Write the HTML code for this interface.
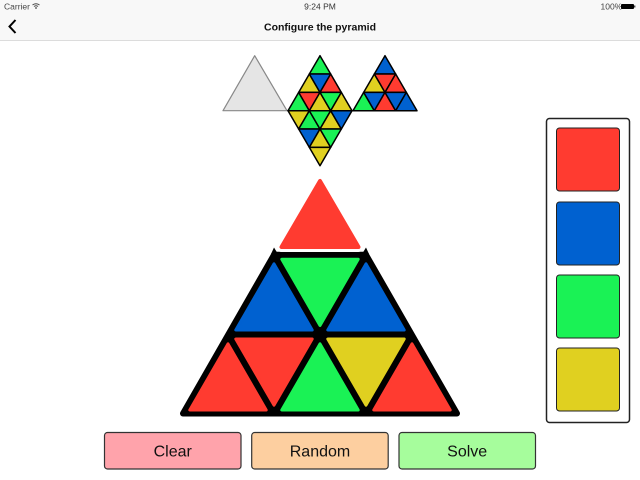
<!DOCTYPE html>
<html><head><meta charset="utf-8"><style>
html,body{margin:0;padding:0;background:#fff}
body{width:640px;height:480px;overflow:hidden;position:relative}
svg{position:absolute;left:0;top:0}
text{font-family:"Liberation Sans",sans-serif}
</style></head><body>
<svg width="640" height="480" viewBox="0 0 640 480" xmlns="http://www.w3.org/2000/svg">
<defs>
<polygon id="u" points="0,18.33 21.33,18.33 10.67,0" stroke="#000" stroke-width="1.5" stroke-linejoin="round"/>
<polygon id="d" points="0,0 21.33,0 10.67,18.33" stroke="#000" stroke-width="1.5" stroke-linejoin="round"/>
<polygon id="U" points="7.79,75.17 84.21,75.17 46,9" stroke-width="3" stroke-linejoin="round"/>
<polygon id="D" points="7.79,4.5 84.21,4.5 46,70.67" stroke-width="3" stroke-linejoin="round"/>
</defs>
<rect x="0" y="0" width="640" height="40" fill="#f8f8f8"/>
<rect x="0" y="40" width="640" height="1" fill="#dcdcdc"/>
<text x="4" y="9.5" font-size="8.5" fill="#444">Carrier</text>
<path d="M32.5 5 Q36 2.5 39.5 5 M34 6.5 Q36 5 38 6.5" fill="none" stroke="#444" stroke-width="1"/>
<circle cx="36" cy="8" r="0.9" fill="#444"/>
<text x="320" y="9.5" font-size="8.5" fill="#333" text-anchor="middle">9:24 PM</text>
<text x="600.5" y="9.5" font-size="8.5" fill="#444">100%</text>
<rect x="621" y="4" width="13" height="5" rx="1" fill="#000"/>
<rect x="634.3" y="5.5" width="1" height="2" fill="#000"/>
<text x="320" y="30.5" font-size="10.5" font-weight="bold" fill="#111" text-anchor="middle">Configure the pyramid</text>
<path d="M15.5 20 L9.5 26.5 L15.5 33" fill="none" stroke="#000" stroke-width="2"/>

<polygon points="254.7,55.7 223,110.7 287,110.7" fill="#e5e5e5" stroke="#888" stroke-width="1.2" stroke-linejoin="round"/>

<use href="#u" x="309.33" y="55.7" fill="#1af255"/>
<use href="#u" x="298.67" y="74" fill="#e0d020"/>
<use href="#d" x="309.33" y="74" fill="#0061d0"/>
<use href="#u" x="320" y="74" fill="#ff3b30"/>
<use href="#u" x="288" y="92.4" fill="#1af255"/>
<use href="#d" x="298.67" y="92.4" fill="#ff3b30"/>
<use href="#u" x="309.33" y="92.4" fill="#e0d020"/>
<use href="#d" x="320" y="92.4" fill="#1af255"/>
<use href="#u" x="330.67" y="92.4" fill="#e0d020"/>
<use href="#d" x="288" y="110.7" fill="#e0d020"/>
<use href="#u" x="298.67" y="110.7" fill="#1af255"/>
<use href="#d" x="309.33" y="110.7" fill="#1af255"/>
<use href="#u" x="320" y="110.7" fill="#e0d020"/>
<use href="#d" x="330.67" y="110.7" fill="#0061d0"/>
<use href="#d" x="298.67" y="129" fill="#0061d0"/>
<use href="#u" x="309.33" y="129" fill="#e0d020"/>
<use href="#d" x="320" y="129" fill="#1af255"/>
<use href="#d" x="309.33" y="147.4" fill="#e0d020"/>

<use href="#u" x="374.33" y="55.7" fill="#0061d0"/>
<use href="#u" x="363.67" y="74" fill="#e0d020"/>
<use href="#d" x="374.33" y="74" fill="#ff3b30"/>
<use href="#u" x="385" y="74" fill="#ff3b30"/>
<use href="#u" x="353" y="92.4" fill="#1af255"/>
<use href="#d" x="363.67" y="92.4" fill="#0061d0"/>
<use href="#u" x="374.33" y="92.4" fill="#ff3b30"/>
<use href="#d" x="385" y="92.4" fill="#0061d0"/>
<use href="#u" x="395.67" y="92.4" fill="#0061d0"/>

<polygon points="183,413.5 457,413.5 366,254.8 274,254.8" fill="#000" stroke="#000" stroke-width="6" stroke-linejoin="round"/>
<polygon points="271,254 274,247.5 278,254" fill="#000"/>
<polygon points="369,254 366,247.5 362,254" fill="#000"/>

<use href="#U" x="182" y="334.83" fill="#ff3b30" stroke="#ff3b30"/>
<use href="#D" x="228" y="334.5" fill="#ff3b30" stroke="#ff3b30"/>
<use href="#U" x="274" y="334.83" fill="#1af255" stroke="#1af255"/>
<use href="#D" x="320" y="334.5" fill="#e0d020" stroke="#e0d020"/>
<use href="#U" x="366" y="334.83" fill="#ff3b30" stroke="#ff3b30"/>
<use href="#U" x="228" y="254.83" fill="#0061d0" stroke="#0061d0"/>
<use href="#D" x="274" y="254.8" fill="#1af255" stroke="#1af255"/>
<use href="#U" x="320" y="254.83" fill="#0061d0" stroke="#0061d0"/>

<polygon points="320,181 281.5,247 358.5,247" fill="#fff" stroke="#fff" stroke-width="10" stroke-linejoin="round"/>
<polygon points="320,181 281.5,247 358.5,247" fill="#ff3b30" stroke="#ff3b30" stroke-width="4" stroke-linejoin="round"/>

<rect x="546.5" y="118.5" width="83" height="304" rx="3" fill="#fff" stroke="#222" stroke-width="1.5"/>
<rect x="556.5" y="128" width="63" height="63" rx="3" fill="#ff3b30" stroke="#222" stroke-width="1"/>
<rect x="556.5" y="202" width="63" height="63" rx="3" fill="#0061d0" stroke="#222" stroke-width="1"/>
<rect x="556.5" y="275" width="63" height="63" rx="3" fill="#1af255" stroke="#222" stroke-width="1"/>
<rect x="556.5" y="348" width="63" height="63" rx="3" fill="#e0d020" stroke="#222" stroke-width="1"/>

<rect x="104.5" y="432.5" width="136.5" height="36.5" rx="3" fill="#ffa3ab" stroke="#333" stroke-width="1.2"/>
<rect x="251.7" y="432.5" width="136.5" height="36.5" rx="3" fill="#fdcfa0" stroke="#333" stroke-width="1.2"/>
<rect x="399" y="432.5" width="136.5" height="36.5" rx="3" fill="#a6fd9c" stroke="#333" stroke-width="1.2"/>
<text x="172.7" y="456.5" font-size="16" fill="#111" text-anchor="middle">Clear</text>
<text x="320" y="456.5" font-size="16" fill="#111" text-anchor="middle">Random</text>
<text x="467.2" y="456.5" font-size="16" fill="#111" text-anchor="middle">Solve</text>
</svg>
</body></html>
